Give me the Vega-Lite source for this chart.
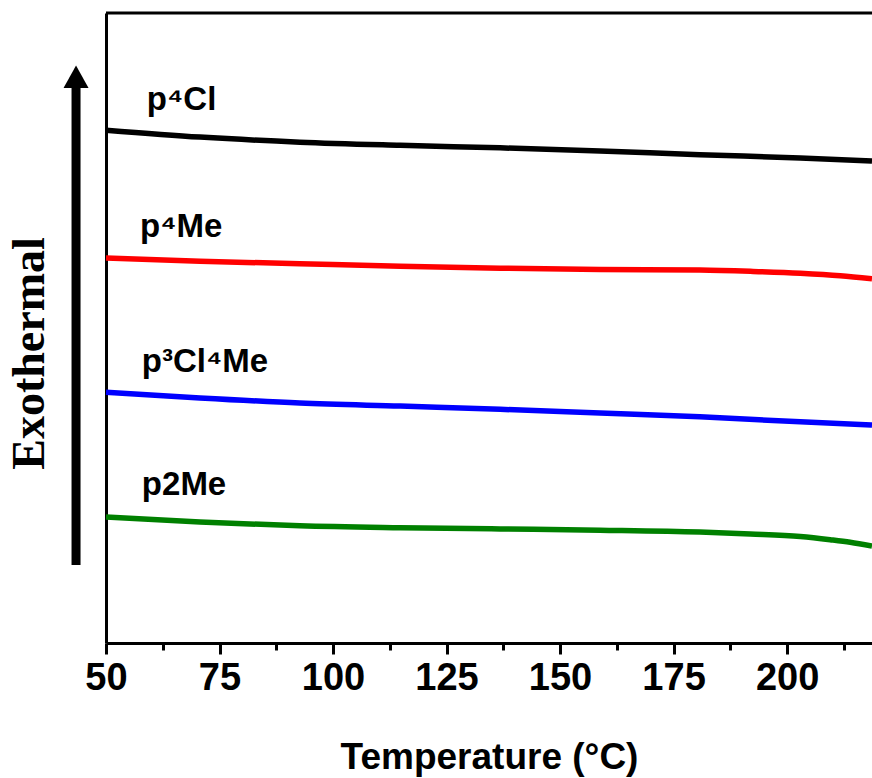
{
  "$schema": "https://vega.github.io/schema/vega-lite/v6.json",
  "width": 766,
  "height": 630,
  "autosize": {"type": "none"},
  "padding": {"left": 106, "top": 13, "right": 0, "bottom": 135},
  "background": "white",
  "config": {"view": {"stroke": null}},
  "datasets": {
    "curves": [
      {"series": "p4Cl", "T": 50, "v": 81.4},
      {"series": "p4Cl", "T": 70.7, "v": 80.3},
      {"series": "p4Cl", "T": 92.7, "v": 79.5},
      {"series": "p4Cl", "T": 114.8, "v": 79.0},
      {"series": "p4Cl", "T": 136.8, "v": 78.6},
      {"series": "p4Cl", "T": 158.8, "v": 78.1},
      {"series": "p4Cl", "T": 180.8, "v": 77.5},
      {"series": "p4Cl", "T": 202.9, "v": 77.0},
      {"series": "p4Cl", "T": 218.7, "v": 76.5},
      {"series": "p4Me", "T": 50, "v": 61.1},
      {"series": "p4Me", "T": 70.7, "v": 60.6},
      {"series": "p4Me", "T": 92.7, "v": 60.2},
      {"series": "p4Me", "T": 114.8, "v": 59.8},
      {"series": "p4Me", "T": 136.8, "v": 59.5},
      {"series": "p4Me", "T": 158.8, "v": 59.3},
      {"series": "p4Me", "T": 180.8, "v": 59.2},
      {"series": "p4Me", "T": 191.9, "v": 59.0},
      {"series": "p4Me", "T": 202.9, "v": 58.7},
      {"series": "p4Me", "T": 211.7, "v": 58.3},
      {"series": "p4Me", "T": 218.7, "v": 57.8},
      {"series": "p3Cl4Me", "T": 50, "v": 39.8},
      {"series": "p3Cl4Me", "T": 70.7, "v": 38.9},
      {"series": "p3Cl4Me", "T": 92.7, "v": 38.1},
      {"series": "p3Cl4Me", "T": 114.8, "v": 37.6},
      {"series": "p3Cl4Me", "T": 136.8, "v": 37.1},
      {"series": "p3Cl4Me", "T": 158.8, "v": 36.5},
      {"series": "p3Cl4Me", "T": 180.8, "v": 35.9},
      {"series": "p3Cl4Me", "T": 202.9, "v": 35.1},
      {"series": "p3Cl4Me", "T": 218.7, "v": 34.6},
      {"series": "p2Me", "T": 50, "v": 20.0},
      {"series": "p2Me", "T": 70.7, "v": 19.2},
      {"series": "p2Me", "T": 92.7, "v": 18.6},
      {"series": "p2Me", "T": 114.8, "v": 18.3},
      {"series": "p2Me", "T": 136.8, "v": 18.1},
      {"series": "p2Me", "T": 158.8, "v": 17.9},
      {"series": "p2Me", "T": 180.8, "v": 17.6},
      {"series": "p2Me", "T": 191.9, "v": 17.3},
      {"series": "p2Me", "T": 202.9, "v": 16.9},
      {"series": "p2Me", "T": 209.5, "v": 16.4},
      {"series": "p2Me", "T": 213.9, "v": 16.0},
      {"series": "p2Me", "T": 218.7, "v": 15.4}
    ],
    "labels": [
      {"label": "p⁴Cl", "T": 59.0, "v": 84.6},
      {"label": "p⁴Me", "T": 57.5, "v": 64.4},
      {"label": "p³Cl⁴Me", "T": 57.9, "v": 43.0},
      {"label": "p2Me", "T": 57.9, "v": 23.5}
    ],
    "arrow": [
      {"T": 43.4, "v": 12.4, "v2": 88.5}
    ],
    "head": [
      {"T": 43.4, "v": 89.9}
    ],
    "frame": [
      {"v": 100}
    ]
  },
  "layer": [
    {
      "data": {"name": "curves"},
      "mark": {"type": "line", "strokeWidth": 5.5, "interpolate": "monotone"},
      "encoding": {
        "x": {
          "field": "T", "type": "quantitative",
          "scale": {"domain": [50, 218.7], "nice": false, "zero": false},
          "axis": {
            "values": [50, 62.5, 75, 87.5, 100, 112.5, 125, 137.5, 150, 162.5, 175, 187.5, 200, 212.5],
            "labelExpr": "datum.value % 25 === 0 ? datum.label : ''",
            "tickSize": {"condition": {"test": "datum.value % 25 === 0", "value": 11}, "value": 7},
            "tickWidth": 3, "tickColor": "black",
            "domainColor": "black", "domainWidth": 3,
            "labelFont": "Liberation Sans", "labelFontWeight": "bold", "labelFontSize": 38,
            "labelColor": "black", "labelPadding": 5, "labelFlush": false, "labelOverlap": false,
            "title": "Temperature (°C)", "titleFont": "Liberation Sans", "titleFontWeight": "bold",
            "titleFontSize": 37, "titleColor": "black", "titlePadding": 42, "grid": false
          }
        },
        "y": {
          "field": "v", "type": "quantitative",
          "scale": {"domain": [0, 100], "nice": false},
          "axis": {
            "ticks": false, "labels": false, "grid": false,
            "domainColor": "black", "domainWidth": 3,
            "title": "Exothermal", "titleFont": "Liberation Serif", "titleFontWeight": "bold",
            "titleFontSize": 46, "titleColor": "black", "titlePadding": 53, "titleY": 340
          }
        },
        "color": {
          "field": "series", "type": "nominal",
          "scale": {"domain": ["p4Cl", "p4Me", "p3Cl4Me", "p2Me"], "range": ["#000000", "#ff0000", "#0000ff", "#008000"]},
          "legend": null
        }
      }
    },
    {
      "data": {"name": "frame"},
      "mark": {"type": "rule", "color": "black", "strokeWidth": 3},
      "encoding": {"y": {"field": "v", "type": "quantitative"}}
    },
    {
      "data": {"name": "labels"},
      "mark": {"type": "text", "align": "left", "baseline": "alphabetic", "font": "Liberation Sans", "fontWeight": "bold", "fontSize": 33, "color": "black"},
      "encoding": {
        "x": {"field": "T", "type": "quantitative"},
        "y": {"field": "v", "type": "quantitative"},
        "text": {"field": "label"}
      }
    },
    {
      "data": {"name": "arrow"},
      "mark": {"type": "rule", "color": "black", "strokeWidth": 9},
      "encoding": {
        "x": {"field": "T", "type": "quantitative"},
        "y": {"field": "v", "type": "quantitative"},
        "y2": {"field": "v2"}
      }
    },
    {
      "data": {"name": "head"},
      "mark": {"type": "point", "shape": "M-1,0.9L0,-0.9L1,0.9Z", "size": 625, "filled": true, "color": "black", "opacity": 1, "strokeWidth": 0},
      "encoding": {
        "x": {"field": "T", "type": "quantitative"},
        "y": {"field": "v", "type": "quantitative"}
      }
    }
  ]
}
